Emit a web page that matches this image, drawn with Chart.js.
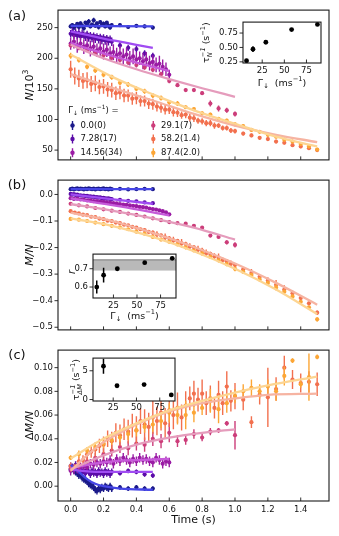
<!DOCTYPE html>
<html><head><meta charset="utf-8">
<script src="https://cdn.jsdelivr.net/npm/chart.js@4/dist/chart.umd.min.js"></script>
<style>
body{margin:0;background:#fff;width:339px;height:536px;position:relative;overflow:hidden}
canvas{position:absolute}
</style></head><body>
<canvas id="ca" width="339" height="170" style="left:0;top:0"></canvas>
<canvas id="cb" width="339" height="170" style="left:0;top:170px"></canvas>
<canvas id="cc" width="339" height="196" style="left:0;top:340px"></canvas>
<canvas id="ia" width="150" height="82" style="left:185px;top:12px"></canvas>
<canvas id="ib" width="125" height="80" style="left:60px;top:244px"></canvas>
<canvas id="ic" width="125" height="66" style="left:55px;top:348px"></canvas>
<script>
// ---------- categories / ticks ----------
const legendLabels = ['0.0(0)','7.28(17)','14.56(34)','29.1(7)','58.2(1.4)','87.4(2.0)'];
const xTicks = [0,0.2,0.4,0.6,0.8,1.0,1.2,1.4];
const yTicksA = [50,100,150,200,250];
const yTicksB = [-0.5,-0.4,-0.3,-0.2,-0.1,0.0];
const yTicksC = [0,0.02,0.04,0.06,0.08,0.10];
const gammaInset = [7.28,14.56,29.1,58.2,87.4];
const gammaInsetC = [14.56,29.1,58.2,87.4];
const insetXTicks = [25,50,75];

// ---------- times ----------
const tBP = [0,0.01,0.02,0.03,0.04,0.05,0.06,0.07,0.08,0.09,0.10,0.11,0.12,0.13,0.14,0.15,0.16,0.17,0.18,0.19,0.20,0.21,0.22,0.23,0.24,0.25,0.30,0.35,0.40,0.45,0.50];
const tMag = [0,0.02,0.04,0.06,0.08,0.10,0.12,0.14,0.16,0.18,0.20,0.22,0.24,0.26,0.28,0.30,0.32,0.34,0.36,0.38,0.40,0.42,0.44,0.46,0.48,0.50,0.52,0.54,0.56,0.58,0.60];
const tPink = [0,0.05,0.10,0.15,0.20,0.25,0.30,0.35,0.40,0.45,0.50,0.55,0.60,0.65,0.70,0.75,0.80,0.85,0.90,0.95,1.00];
const tOrange = [0,0.025,0.05,0.075,0.10,0.125,0.15,0.175,0.20,0.225,0.25,0.275,0.30,0.325,0.35,0.375,0.40,0.425,0.45,0.475,0.50,0.525,0.55,0.575,0.60,0.625,0.65,0.675,0.70,0.725,0.75,0.775,0.80,0.825,0.85,0.875,0.90,0.925,0.95,0.975,1.00,1.05,1.10,1.15,1.20,1.25,1.30,1.35,1.40,1.45,1.50];
const tYellow = [0,0.05,0.10,0.15,0.20,0.25,0.30,0.35,0.40,0.45,0.50,0.55,0.60,0.65,0.70,0.75,0.80,0.85,0.90,0.95,1.00,1.05,1.10,1.15,1.20,1.25,1.30,1.35,1.40,1.45,1.50];

// ---------- panel (a): N/10^3 ----------
const nBlue = [252,254,250,253,256,251,257,253,249,258,254,260,252,255,262,253,257,251,259,254,256,252,258,253,250,254,254,251,253,252,250];
const eNBlue = [3,3,4,3,3,4,3,3,4,3,3,4,3,3,4,3,3,4,3,3,4,3,3,4,3,3,3,3,3,3,3];
const nPurple = [240,243,238,242,237,241,236,240,238,235,239,234,237,233,236,232,235,231,234,230,233,229,232,228,231,227,221,217,215,208,204];
const eNPurple = [6,7,6,7,6,7,6,7,6,7,6,7,6,7,6,7,6,7,6,7,6,7,6,7,6,7,5,5,5,5,5];
const nMag = [224,227,221,224,219,221,216,219,213,216,211,214,208,210,205,208,203,206,200,203,198,200,195,198,192,194,189,191,186,182,173];
const eNMag = [10,11,12,10,12,11,13,12,11,12,13,12,11,13,12,12,13,11,12,13,12,11,13,12,12,11,12,13,12,11,8];
const nPink = [221,217,214,209,205,201,197,193,189,185,181,174,163,156,148,148,143,126,118,115,109];
const eNPink = [4,4,4,4,4,4,4,4,4,4,4,4,4,3,3,3,3,5,5,4,4];
const nOrange = [182,171,167,163,164,158,159,153,154,149,148,143,144,139,139,134,135,130,130,126,125,121,119,116,116,112,111,107,108,103,102,98,97,94,94,90,90,86,86,82,81,77,74,70,68,64,62,58,56,53,50];
const eNOrange = [14,14,14,13,13,13,13,12,12,12,12,11,11,11,10,10,10,9,9,9,9,8,8,8,7,7,7,6,6,6,6,5,5,5,5,5,4,4,4,4,4,3,3,3,3,3,3,3,3,3,3];
const nYellow = [204,197,186,180,173,169,160,157,150,146,139,135,128,126,120,117,110,108,101,98,92,89,83,80,75,72,67,64,60,56,51];
const eNYellow = [5,4,4,4,4,4,4,4,4,4,4,4,4,4,3,3,3,3,3,3,3,3,3,3,3,3,3,3,3,3,3];
// fits (a)
const fitTA = [[0,0.5],[0,0.1,0.2,0.3,0.4,0.5],[0,0.1,0.2,0.3,0.4,0.5,0.6],[0,0.2,0.4,0.6,0.8,1.0],[0,0.25,0.5,0.75,1.0,1.25,1.5],[0,0.25,0.5,0.75,1.0,1.25,1.5]];
const fitVA = [[253,252],[244,238,232,227,222,217],[225,216,208,200,193,186,179],[222,200,182,166,151,137],[174,152,131,109,90,75,63],[206,170,141,115,93,72,56]];

// ---------- panel (b): M/N ----------
const mBlue = [0.020,0.022,0.019,0.021,0.023,0.020,0.022,0.021,0.019,0.022,0.020,0.023,0.021,0.020,0.022,0.019,0.021,0.022,0.020,0.021,0.023,0.020,0.021,0.019,0.022,0.020,0.021,0.019,0.020,0.021,0.020];
const eMBlue = [0.002,0.002,0.002,0.002,0.002,0.002,0.002,0.002,0.002,0.002,0.002,0.002,0.002,0.002,0.002,0.002,0.002,0.002,0.002,0.002,0.002,0.002,0.002,0.002,0.002,0.002,0.002,0.002,0.002,0.002,0.002];
const mPurple = [0.002,-0.001,0.001,-0.002,-0.001,-0.004,-0.003,-0.005,-0.004,-0.006,-0.005,-0.008,-0.007,-0.009,-0.008,-0.011,-0.010,-0.012,-0.011,-0.014,-0.013,-0.015,-0.016,-0.015,-0.017,-0.018,-0.020,-0.024,-0.026,-0.030,-0.033];
const eMPurple = [0.003,0.003,0.003,0.003,0.003,0.003,0.003,0.003,0.003,0.003,0.003,0.003,0.003,0.003,0.003,0.003,0.003,0.003,0.003,0.003,0.003,0.003,0.003,0.003,0.003,0.003,0.003,0.003,0.003,0.003,0.003];
const mMag = [-0.014,-0.017,-0.016,-0.019,-0.019,-0.022,-0.022,-0.025,-0.025,-0.027,-0.028,-0.030,-0.031,-0.033,-0.034,-0.036,-0.038,-0.039,-0.041,-0.043,-0.044,-0.047,-0.048,-0.050,-0.053,-0.055,-0.057,-0.060,-0.063,-0.067,-0.075];
const eMMag = [0.004,0.004,0.004,0.004,0.004,0.004,0.004,0.004,0.004,0.004,0.004,0.004,0.004,0.004,0.004,0.004,0.004,0.004,0.004,0.004,0.004,0.004,0.004,0.004,0.004,0.004,0.004,0.004,0.004,0.004,0.005];
const mPink = [-0.035,-0.041,-0.045,-0.051,-0.056,-0.061,-0.066,-0.072,-0.077,-0.083,-0.090,-0.097,-0.104,-0.108,-0.110,-0.118,-0.125,-0.155,-0.160,-0.180,-0.190];
const eMPink = [0.003,0.003,0.003,0.003,0.003,0.003,0.003,0.003,0.003,0.003,0.004,0.004,0.004,0.004,0.004,0.005,0.005,0.006,0.006,0.008,0.010];
const mOrange = [-0.063,-0.068,-0.071,-0.076,-0.078,-0.084,-0.085,-0.091,-0.093,-0.099,-0.100,-0.106,-0.108,-0.114,-0.116,-0.122,-0.125,-0.131,-0.134,-0.141,-0.144,-0.151,-0.154,-0.162,-0.165,-0.173,-0.175,-0.184,-0.187,-0.196,-0.199,-0.208,-0.211,-0.221,-0.224,-0.233,-0.238,-0.247,-0.252,-0.261,-0.266,-0.282,-0.296,-0.310,-0.324,-0.340,-0.358,-0.372,-0.390,-0.410,-0.445];
const eMOrange = [0.004,0.004,0.004,0.004,0.004,0.004,0.004,0.004,0.004,0.004,0.005,0.005,0.005,0.005,0.005,0.005,0.005,0.005,0.005,0.005,0.008,0.012,0.006,0.015,0.008,0.014,0.007,0.016,0.009,0.012,0.008,0.015,0.010,0.014,0.008,0.012,0.016,0.010,0.009,0.012,0.008,0.006,0.015,0.006,0.012,0.018,0.016,0.010,0.006,0.006,0.008];
const mYellow = [-0.092,-0.095,-0.100,-0.106,-0.112,-0.118,-0.124,-0.131,-0.140,-0.148,-0.160,-0.170,-0.178,-0.188,-0.199,-0.211,-0.222,-0.235,-0.248,-0.262,-0.280,-0.291,-0.303,-0.320,-0.333,-0.350,-0.366,-0.384,-0.404,-0.425,-0.470];
const eMYellow = [0.003,0.003,0.003,0.003,0.003,0.003,0.003,0.003,0.003,0.003,0.004,0.005,0.006,0.005,0.007,0.006,0.008,0.006,0.007,0.008,0.009,0.008,0.006,0.009,0.008,0.012,0.007,0.006,0.006,0.006,0.008];
const fitTB = [[0,0.5],[0,0.5],[0,0.3,0.6],[0,0.25,0.5,0.75,1.0],[0,0.25,0.5,0.75,1.0,1.25,1.5],[0,0.25,0.5,0.75,1.0,1.25,1.5]];
const fitVB = [[0.020,0.020],[0.0,-0.035],[-0.015,-0.045,-0.079],[-0.036,-0.061,-0.090,-0.125,-0.170],[-0.068,-0.100,-0.145,-0.198,-0.260,-0.333,-0.415],[-0.090,-0.118,-0.160,-0.214,-0.280,-0.358,-0.450]];

// ---------- panel (c): ΔM/N ----------
const dBlue = [0.014,0.016,0.013,0.012,0.011,0.009,0.010,0.007,0.006,0.005,0.004,0.002,0.001,0.000,-0.001,-0.003,-0.004,-0.002,-0.003,-0.001,-0.002,0.000,-0.001,-0.002,0.000,-0.002,-0.001,-0.002,-0.001,-0.002,-0.002];
const eDBlue = [0.003,0.003,0.003,0.003,0.003,0.003,0.003,0.003,0.003,0.003,0.003,0.003,0.003,0.003,0.003,0.003,0.003,0.003,0.003,0.003,0.003,0.003,0.003,0.003,0.003,0.003,0.002,0.002,0.002,0.002,0.002];
const dPurple = [0.017,0.016,0.015,0.018,0.014,0.013,0.015,0.012,0.013,0.011,0.014,0.012,0.010,0.013,0.011,0.012,0.010,0.013,0.011,0.012,0.010,0.013,0.011,0.012,0.010,0.012,0.011,0.013,0.012,0.010,0.009];
const eDPurple = [0.003,0.003,0.003,0.003,0.003,0.003,0.003,0.003,0.003,0.003,0.003,0.003,0.003,0.003,0.003,0.003,0.003,0.003,0.003,0.003,0.003,0.003,0.003,0.003,0.003,0.003,0.002,0.002,0.002,0.002,0.002];
const dMag = [0.013,0.014,0.015,0.016,0.017,0.016,0.019,0.018,0.020,0.019,0.021,0.020,0.022,0.019,0.023,0.021,0.024,0.022,0.020,0.023,0.021,0.024,0.022,0.023,0.021,0.020,0.024,0.022,0.019,0.021,0.020];
const eDMag = [0.004,0.004,0.004,0.004,0.004,0.004,0.004,0.004,0.004,0.004,0.004,0.004,0.004,0.004,0.004,0.004,0.004,0.004,0.004,0.004,0.004,0.004,0.004,0.004,0.004,0.004,0.004,0.004,0.004,0.004,0.004];
const dPink = [0.015,0.018,0.021,0.024,0.027,0.030,0.033,0.032,0.036,0.035,0.040,0.038,0.045,0.038,0.039,0.044,0.041,0.046,0.047,0.053,0.043];
const eDPink = [0.003,0.004,0.004,0.004,0.005,0.005,0.005,0.006,0.006,0.006,0.006,0.006,0.008,0.005,0.004,0.004,0.003,0.003,0.002,0.002,0.012];
const dOrange = [0.017,0.016,0.021,0.022,0.027,0.029,0.031,0.034,0.035,0.040,0.038,0.045,0.043,0.048,0.046,0.051,0.047,0.055,0.052,0.050,0.058,0.055,0.062,0.053,0.064,0.060,0.066,0.058,0.068,0.074,0.078,0.073,0.078,0.070,0.074,0.066,0.077,0.070,0.084,0.072,0.076,0.073,0.054,0.077,0.075,0.082,0.100,0.090,0.087,0.088,0.086];
const eDOrange = [0.003,0.003,0.004,0.004,0.005,0.005,0.006,0.006,0.007,0.007,0.008,0.008,0.009,0.009,0.010,0.010,0.012,0.011,0.013,0.012,0.014,0.012,0.015,0.013,0.014,0.012,0.013,0.011,0.012,0.010,0.011,0.010,0.012,0.010,0.011,0.009,0.012,0.010,0.013,0.009,0.011,0.009,0.005,0.008,0.025,0.010,0.010,0.008,0.008,0.009,0.010];
const dYellow = [0.024,0.027,0.030,0.033,0.036,0.039,0.041,0.044,0.047,0.050,0.052,0.055,0.062,0.060,0.060,0.062,0.066,0.072,0.065,0.070,0.076,0.080,0.083,0.080,0.084,0.080,0.093,0.106,0.086,0.092,0.109];
const eDYellow = [0.002,0.003,0.003,0.003,0.004,0.004,0.004,0.005,0.005,0.005,0.006,0.006,0.008,0.008,0.012,0.008,0.006,0.010,0.012,0.008,0.006,0.006,0.007,0.006,0.006,0.008,0.008,0.002,0.003,0.020,0.002];
const fitTC = [[0,0.05,0.1,0.15,0.2,0.3,0.5],[0,0.1,0.2,0.5],[0,0.1,0.2,0.3,0.4,0.6],[0,0.2,0.4,0.6,0.8,1.0],[0,0.1,0.2,0.3,0.4,0.6,0.8,1.0,1.2,1.5],[0,0.2,0.4,0.6,0.8,1.0,1.2,1.5]];
const fitVC = [[0.018,0.012,0.006,0.002,0.000,-0.002,-0.003],[0.014,0.0125,0.012,0.012],[0.015,0.018,0.020,0.0215,0.022,0.023],[0.014,0.026,0.035,0.041,0.045,0.048],[0.013,0.026,0.037,0.045,0.052,0.063,0.070,0.074,0.077,0.078],[0.0235,0.040,0.053,0.064,0.072,0.079,0.085,0.0925]];

// ---------- insets ----------
const invTauN = [0.27,0.47,0.59,0.81,0.90];
const invTauNErr = [0.02,0.05,0.02,0.015,0.02];
const rVals = [0.60,0.665,0.70,0.733,0.757];
const rErr = [0.035,0.04,0.01,0.008,0.008];
const rBand = [0.69,0.753];
const invTauDM = [5.8,2.4,2.6,0.8];
const invTauDMErr = [1.3,0.15,0.15,0.15];

// ---------- styles ----------
const PT = ['#1b1a8a','#5b0ca8','#9a1ba4','#cc3d7a','#f2704e','#fca636'];
const LN = ['#4646e6','#a04cf2','#c65ad9','#e59cbc','#f6b4a2','#fdd592'];
const FONT = '"DejaVu Sans", sans-serif';
Chart.defaults.font.family = FONT;
Chart.defaults.color = '#111';

function rich(ctx, parts, x, y, size, rot, align){
  ctx.save(); ctx.translate(x,y); if(rot) ctx.rotate(rot);
  ctx.textBaseline='middle'; ctx.textAlign='left'; ctx.fillStyle='#111';
  const fs=(s,it)=>(it?'italic ':'')+s+'px '+FONT;
  const sm=size*0.7; const ws=[]; let tot=0;
  parts.forEach(p=>{let w;
    if(p.t!==undefined){ctx.font=fs(size,p.i);w=ctx.measureText(p.t).width;}
    else{ctx.font=fs(sm,p.i);w=Math.max(p.sub?ctx.measureText(p.sub).width:0,p.sup?ctx.measureText(p.sup).width:0);}
    ws.push(w);tot+=w;});
  let cx = align==='left'?0:-tot/2;
  parts.forEach((p,k)=>{
    if(p.t!==undefined){ctx.font=fs(size,p.i);ctx.fillText(p.t,cx,0);}
    else{ctx.font=fs(sm,p.i); if(p.sub)ctx.fillText(p.sub,cx,size*0.32); if(p.sup)ctx.fillText(p.sup,cx,-size*0.4);}
    cx+=ws[k];});
  ctx.restore();
}

const errPlugin = {id:'errbars', beforeDatasetDraw(chart,args){
  const ds=chart.data.datasets[args.index]; if(!ds.errs) return;
  const xs=chart.scales.x, ys=chart.scales.y, a=chart.chartArea, ctx=chart.ctx;
  ctx.save(); ctx.beginPath(); ctx.rect(a.left,a.top,a.right-a.left,a.bottom-a.top); ctx.clip();
  ctx.strokeStyle=ds.borderColor; ctx.lineWidth=ds.errWidth||1.4; ctx.beginPath();
  ds.data.forEach((p,j)=>{const e=ds.errs[j]; const px=xs.getPixelForValue(p.x);
    ctx.moveTo(px,ys.getPixelForValue(p.y-e)); ctx.lineTo(px,ys.getPixelForValue(p.y+e));});
  ctx.stroke(); ctx.restore();
}};
const framePlugin = {id:'frame', afterDraw(chart){
  const a=chart.chartArea, ctx=chart.ctx; ctx.save();
  ctx.strokeStyle='#1a1a1a'; ctx.lineWidth=1.1;
  ctx.strokeRect(a.left,a.top,a.right-a.left,a.bottom-a.top);
  ctx.lineWidth=0.9; ctx.beginPath();
  chart.scales.y.ticks.forEach(t=>{const py=chart.scales.y.getPixelForValue(t.value); ctx.moveTo(a.left-3.5,py); ctx.lineTo(a.left,py);});
  chart.scales.x.ticks.forEach(t=>{const px=chart.scales.x.getPixelForValue(t.value); ctx.moveTo(px,a.bottom); ctx.lineTo(px,a.bottom-3.5);});
  ctx.stroke(); ctx.restore();
}};

function mainChart(id, o){
  const ds=[];
  o.series.forEach((s,i)=>ds.push({type:'scatter', data:s.t.map((t,j)=>({x:t,y:s.v[j]})), errs:s.e,
    backgroundColor:PT[i], borderColor:PT[i], borderWidth:0, pointRadius:2.1, pointHoverRadius:0, order:20-i}));
  o.series.forEach((s,i)=>ds.push({type:'line', data:s.ft.map((t,j)=>({x:t,y:s.fv[j]})),
    borderColor:LN[i], borderWidth:2.3, pointRadius:0, cubicInterpolationMode:'monotone', fill:false, order:10-i}));
  return new Chart(document.getElementById(id), {type:'scatter', data:{datasets:ds},
    options:{responsive:false, animation:false, devicePixelRatio:1,
      layout:{padding:{left:0,top:o.padTop,right:10,bottom:0}},
      plugins:{legend:{display:false},tooltip:{enabled:false}},
      scales:{
        x:{type:'linear',min:-0.077,max:1.572,afterFit:s=>{s.height=o.xH;},afterBuildTicks:s=>{s.ticks=xTicks.map(v=>({value:v}));},
          grid:{display:false,drawTicks:false},border:{display:false},
          ticks:{display:!!o.xLabels,padding:4,autoSkip:false,maxRotation:0,font:{size:8.5},callback:v=>v.toFixed(1)}},
        y:{type:'linear',min:o.yMin,max:o.yMax,afterFit:s=>{s.width=58;},afterBuildTicks:s=>{s.ticks=o.yTicks.map(v=>({value:v}));},
          grid:{display:false,drawTicks:false},border:{display:false},
          ticks:{padding:5,autoSkip:false,font:{size:8.5},callback:o.yFmt}}}},
    plugins:[errPlugin,framePlugin,{id:'extra',afterDraw:o.extra}]});
}

const minus = v=> v<0 ? '\u2212'+Math.abs(v).toFixed(1) : v.toFixed(1);

mainChart('ca',{padTop:9,xH:7,yMin:34,yMax:278.6,yTicks:yTicksA,yFmt:v=>String(v),
  series:[
    {t:tBP,v:nBlue,e:eNBlue,ft:fitTA[0],fv:fitVA[0]},
    {t:tBP,v:nPurple,e:eNPurple,ft:fitTA[1],fv:fitVA[1]},
    {t:tMag,v:nMag,e:eNMag,ft:fitTA[2],fv:fitVA[2]},
    {t:tPink,v:nPink,e:eNPink,ft:fitTA[3],fv:fitVA[3]},
    {t:tOrange,v:nOrange,e:eNOrange,ft:fitTA[4],fv:fitVA[4]},
    {t:tYellow,v:nYellow,e:eNYellow,ft:fitTA[5],fv:fitVA[5]}],
  extra:(c)=>{const ctx=c.ctx,a=c.chartArea;
    rich(ctx,[{t:'(a)'}],17,17,13,0);
    rich(ctx,[{t:'N',i:1},{t:'/10'},{sup:'3'}],30,(a.top+a.bottom)/2,11,-Math.PI/2);
    rich(ctx,[{t:'Γ'},{sub:'↓'},{t:' (ms'},{sup:'−1'},{t:') ='}],68.3,111,8.5,0,'left');
    const rows=[125.5,139,152.7], mx=[72.5,153.3], tx=[80.5,161];
    legendLabels.forEach((lab,i)=>{const col=Math.floor(i/3), r=i%3, y=rows[r];
      ctx.save(); ctx.strokeStyle=PT[i]; ctx.fillStyle=PT[i]; ctx.lineWidth=1.4;
      ctx.beginPath(); ctx.moveTo(mx[col],y-4.5); ctx.lineTo(mx[col],y+4.5); ctx.stroke();
      ctx.beginPath(); ctx.arc(mx[col],y,2.2,0,Math.PI*2); ctx.fill(); ctx.restore();
      rich(ctx,[{t:lab}],tx[col],y,8.5,0,'left');});
  }});

mainChart('cb',{padTop:8,xH:8,yMin:-0.51,yMax:0.054,yTicks:yTicksB,yFmt:minus,
  series:[
    {t:tBP,v:mBlue,e:eMBlue,ft:fitTB[0],fv:fitVB[0]},
    {t:tBP,v:mPurple,e:eMPurple,ft:fitTB[1],fv:fitVB[1]},
    {t:tMag,v:mMag,e:eMMag,ft:fitTB[2],fv:fitVB[2]},
    {t:tPink,v:mPink,e:eMPink,ft:fitTB[3],fv:fitVB[3]},
    {t:tOrange,v:mOrange,e:eMOrange,ft:fitTB[4],fv:fitVB[4]},
    {t:tYellow,v:mYellow,e:eMYellow,ft:fitTB[5],fv:fitVB[5]}],
  extra:(c)=>{const ctx=c.ctx,a=c.chartArea;
    rich(ctx,[{t:'(b)'}],17,16,13,0);
    rich(ctx,[{t:'M/N',i:1}],30,(a.top+a.bottom)/2,11,-Math.PI/2);
  }});

mainChart('cc',{padTop:9,xH:35,xLabels:true,yMin:-0.0125,yMax:0.1148,yTicks:yTicksC,yFmt:v=>v.toFixed(2),
  series:[
    {t:tBP,v:dBlue,e:eDBlue,ft:fitTC[0],fv:fitVC[0]},
    {t:tBP,v:dPurple,e:eDPurple,ft:fitTC[1],fv:fitVC[1]},
    {t:tMag,v:dMag,e:eDMag,ft:fitTC[2],fv:fitVC[2]},
    {t:tPink,v:dPink,e:eDPink,ft:fitTC[3],fv:fitVC[3]},
    {t:tOrange,v:dOrange,e:eDOrange,ft:fitTC[4],fv:fitVC[4]},
    {t:tYellow,v:dYellow,e:eDYellow,ft:fitTC[5],fv:fitVC[5]}],
  extra:(c)=>{const ctx=c.ctx,a=c.chartArea;
    rich(ctx,[{t:'(c)'}],17,16,13,0);
    rich(ctx,[{t:'Δ'},{t:'M/N',i:1}],30,(a.top+a.bottom)/2,11,-Math.PI/2);
    rich(ctx,[{t:'Time (s)'}],(a.left+a.right)/2,180,11,0);
  }});

function inset(id,o){
  return new Chart(document.getElementById(id),{type:'scatter',
    data:{datasets:[{data:o.x.map((g,j)=>({x:g,y:o.v[j]})),errs:o.e,errWidth:1.5,backgroundColor:'#000',borderColor:'#000',borderWidth:0,pointRadius:2.4,pointHoverRadius:0}]},
    options:{responsive:false,animation:false,devicePixelRatio:1,
      layout:{padding:{left:0,top:o.padTop,right:o.padRight,bottom:0}},
      plugins:{legend:{display:false},tooltip:{enabled:false}},
      scales:{
        x:{type:'linear',min:3.3,max:91.4,afterFit:s=>{s.height=o.xH;},afterBuildTicks:s=>{s.ticks=insetXTicks.map(v=>({value:v}));},
          grid:{display:false,drawTicks:false},border:{display:false},
          ticks:{padding:o.xPad,autoSkip:false,maxRotation:0,font:{size:8.5},callback:v=>String(v)}},
        y:{type:'linear',min:o.yMin,max:o.yMax,afterFit:s=>{s.width=o.yW;},afterBuildTicks:s=>{s.ticks=o.yTicks.map(v=>({value:v}));},
          grid:{display:false,drawTicks:false},border:{display:false},
          ticks:{padding:5,autoSkip:false,font:{size:8.5},callback:o.yFmt}}}},
    plugins:[{id:'bg',beforeDraw(c){const a=c.chartArea;c.ctx.save();c.ctx.fillStyle='#fff';c.ctx.fillRect(a.left,a.top,a.right-a.left,a.bottom-a.top);c.ctx.restore();},
              beforeDatasetsDraw(c){if(o.band){const a=c.chartArea,ys=c.scales.y,ctx=c.ctx;const y1=ys.getPixelForValue(o.band[1]),y0=ys.getPixelForValue(o.band[0]);
                ctx.save();ctx.fillStyle='#b9b9b9';ctx.fillRect(a.left,y1,a.right-a.left,y0-y1);ctx.strokeStyle='#8c8c8c';ctx.lineWidth=1;ctx.beginPath();ctx.moveTo(a.left,y1+1);ctx.lineTo(a.right,y1+1);ctx.stroke();ctx.restore();}}},
             errPlugin,framePlugin,{id:'extra',afterDraw:o.extra}]});
}

inset('ia',{x:gammaInset,v:invTauN,e:invTauNErr,padTop:7,padRight:14,xH:31,yW:58,xPad:3,yMin:0.23,yMax:0.94,yTicks:[0.25,0.5,0.75],yFmt:v=>v.toFixed(2),
  extra:(c)=>{const ctx=c.ctx,a=c.chartArea;
    rich(ctx,[{t:'τ'},{sub:'N',sup:'−1',i:1},{t:' (s'},{sup:'−1'},{t:')'}],22,(a.top+a.bottom)/2,9.5,-Math.PI/2);
    rich(ctx,[{t:'Γ'},{sub:'↓'},{t:'  (ms'},{sup:'−1'},{t:')'}],(a.left+a.right)/2,71.5,9.5,0);}});
inset('ib',{x:gammaInset,v:rVals,e:rErr,band:rBand,padTop:7,padRight:9,xH:26,yW:33,xPad:3,yMin:0.54,yMax:0.78,yTicks:[0.6,0.7],yFmt:v=>v.toFixed(1),
  extra:(c)=>{const ctx=c.ctx,a=c.chartArea;
    rich(ctx,[{t:'r',i:1}],12,(a.top+a.bottom)/2-4,10,-Math.PI/2);
    rich(ctx,[{t:'Γ'},{sub:'↓'},{t:'  (ms'},{sup:'−1'},{t:')'}],(a.left+a.right)/2,72.5,9.5,0);}});
inset('ic',{x:gammaInsetC,v:invTauDM,e:invTauDMErr,padTop:6,padRight:5,xH:13,yW:38,xPad:2,yMin:-0.25,yMax:7.2,yTicks:[0,5],yFmt:v=>String(v),
  extra:(c)=>{const ctx=c.ctx,a=c.chartArea;
    rich(ctx,[{t:'τ'},{sub:'ΔM',sup:'−1',i:1},{t:' (s'},{sup:'−1'},{t:')'}],22,(a.top+a.bottom)/2,9.5,-Math.PI/2);}});
</script>
</body></html>
